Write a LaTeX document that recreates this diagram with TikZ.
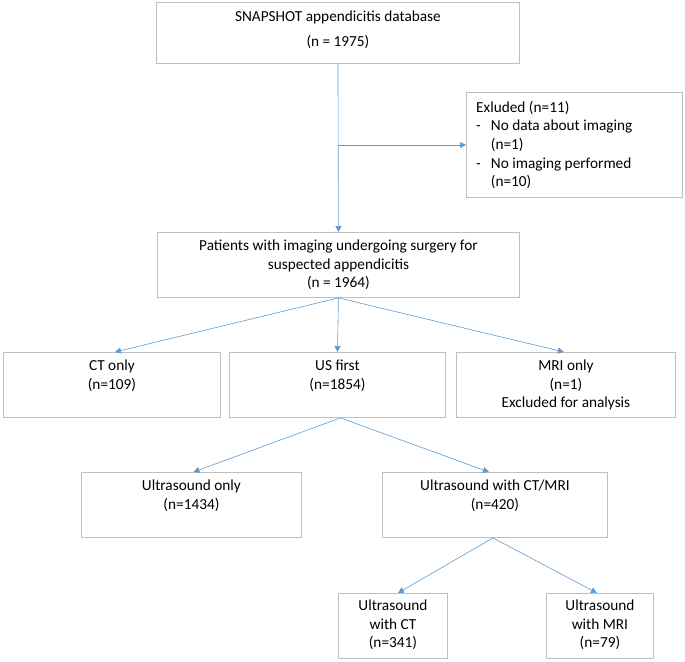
\documentclass[tikz,border=0pt]{standalone}
\usepackage{fontspec}
\setmainfont{Carlito}
\usetikzlibrary{arrows.meta}

\definecolor{boxgray}{RGB}{191,191,191}
\definecolor{arrowblue}{RGB}{91,155,213}

\tikzset{
  box/.style={draw=boxgray, line width=0.9pt, inner sep=0pt, anchor=north west},
  txt/.style={anchor=north, inner sep=0pt, align=center, font=\fontsize{15.3}{18.3}\selectfont},
  arr/.style={draw=arrowblue, line width=0.6pt, -{Triangle[length=6pt,width=6pt]}}
}

\begin{document}
\begin{tikzpicture}[x=1pt,y=-1pt]
\useasboundingbox (0,0) rectangle (685,661);

% boxes
\node[box, minimum width=363pt, minimum height=61pt] (db) at (156,2) {};
\node[box, minimum width=216pt, minimum height=105pt] (excl) at (466,92) {};
\node[box, minimum width=362pt, minimum height=65pt] (img) at (157,232) {};

\node[box, minimum width=217pt, minimum height=65pt] (ct) at (3,352) {};
\node[box, minimum width=216pt, minimum height=65pt] (us) at (229,352) {};
\node[box, minimum width=219pt, minimum height=65pt] (mri) at (456,352) {};

\node[box, minimum width=220pt, minimum height=65pt] (usonly) at (81,472) {};
\node[box, minimum width=225pt, minimum height=65pt] (usplus) at (382,472) {};

\node[box, minimum width=109pt, minimum height=65pt] (usct) at (338,593) {};
\node[box, minimum width=107pt, minimum height=65pt] (usmri) at (546,593) {};

% texts
\node[txt, font=\fontsize{15.3}{25}\selectfont] at ([yshift=-9pt]db.north) {SNAPSHOT appendicitis database\\(n = 1975)};
\node[txt] at ([yshift=-8pt]img.north) {Patients with imaging undergoing surgery for\\suspected appendicitis\\(n = 1964)};
\node[txt] at ([yshift=-8pt]ct.north) {CT only\\(n=109)};
\node[txt] at ([yshift=-8pt]us.north) {US first\\(n=1854)};
\node[txt] at ([yshift=-8pt]mri.north) {MRI only\\(n=1)\\Excluded for analysis};
\node[txt] at ([yshift=-8pt]usonly.north) {Ultrasound only\\(n=1434)};
\node[txt] at ([yshift=-8pt]usplus.north) {Ultrasound with CT/MRI\\(n=420)};
\node[txt] at ([yshift=-7pt]usct.north) {Ultrasound\\with CT\\(n=341)};
\node[txt] at ([yshift=-7pt]usmri.north) {Ultrasound\\with MRI\\(n=79)};

\node[anchor=north west, inner sep=0pt, font=\fontsize{15.3}{18.6}\selectfont] at ([xshift=10pt,yshift=-7pt]excl.north west)
  {\begin{tabular}{@{}l@{\hspace{10pt}}l@{}}
   \multicolumn{2}{@{}l}{Exluded (n=11)}\\
   - & No data about imaging\\
     & (n=1)\\
   - & No imaging performed\\
     & (n=10)
   \end{tabular}};

% connectors
\coordinate (split) at (db.south |- excl.west);
\draw[arr] (db.south) -- (img.north);
\draw[arr] (split) -- (excl.west);

\draw[arr] (img.south) -- ([xshift=3pt]ct.north);
\draw[arr] (img.south) -- (us.north);
\draw[arr] (img.south) -- ([xshift=-2pt]mri.north);

\draw[arr] ([xshift=3pt]us.south) -- ([xshift=2pt]usonly.north);
\draw[arr] ([xshift=3pt]us.south) -- ([xshift=-6pt]usplus.north);

\draw[arr] ([xshift=-2pt]usplus.south) -- ([xshift=5pt]usct.north);
\draw[arr] ([xshift=-2pt]usplus.south) -- ([xshift=-3pt]usmri.north);

\end{tikzpicture}
\end{document}
